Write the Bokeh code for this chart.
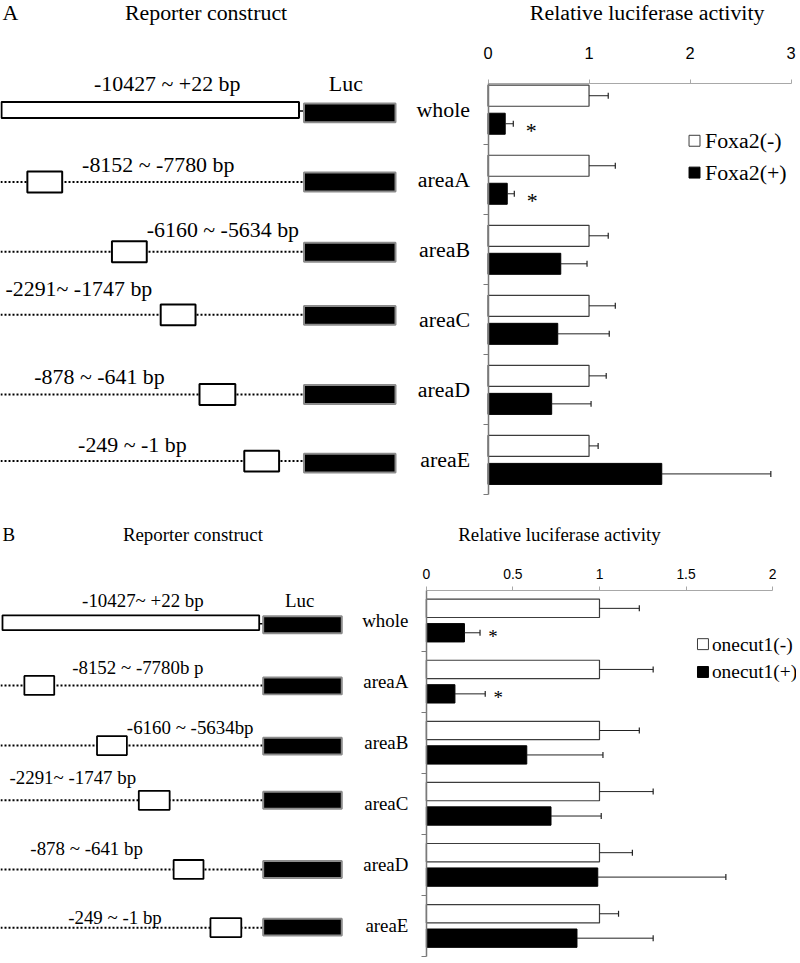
import numpy as np
from bokeh.plotting import figure
from bokeh.models import Range1d, FixedTicker, LinearAxis
from bokeh.embed import file_html
from bokeh.resources import INLINE
from bokeh.core.properties import value

# ---------------- data ----------------
categories = ["whole", "areaA", "areaB", "areaC", "areaD", "areaE"]
labels_a = ["-10427 ~ +22 bp", "-8152 ~ -7780 bp", "-6160 ~ -5634 bp",
            "-2291~ -1747 bp", "-878 ~ -641 bp", "-249 ~ -1 bp"]
labels_b = ["-10427~ +22 bp", "-8152 ~ -7780b p", "-6160 ~ -5634bp",
            "-2291~ -1747 bp", "-878 ~ -641 bp", "-249 ~ -1 bp"]

foxa2_minus = [1.0, 1.0, 1.0, 1.0, 1.0, 1.0]
foxa2_minus_err = [0.19, 0.26, 0.19, 0.26, 0.17, 0.09]
foxa2_plus = [0.17, 0.19, 0.72, 0.69, 0.63, 1.72]
foxa2_plus_err = [0.08, 0.07, 0.26, 0.51, 0.39, 1.08]
foxa2_sig = [True, True, False, False, False, False]

onecut1_minus = [1.0, 1.0, 1.0, 1.0, 1.0, 1.0]
onecut1_minus_err = [0.23, 0.31, 0.23, 0.31, 0.19, 0.11]
onecut1_plus = [0.22, 0.165, 0.58, 0.72, 0.99, 0.87]
onecut1_plus_err = [0.09, 0.175, 0.44, 0.29, 0.74, 0.44]
onecut1_sig = [True, True, False, False, False, False]

ticks_a = [0, 1, 2, 3]
tick_labels_a = ["0", "1", "2", "3"]
ticks_b = [0, 0.5, 1, 1.5, 2]
tick_labels_b = ["0", "0.5", "1", "1.5", "2"]

# ---------------- canvas (reference-pixel coordinates) ----------------
S = 0.995
W_REF, H_REF = 800, 963
SERIF = "Liberation Serif"
SANS = "Liberation Sans"


def fpx(v):
    return f"{v * S:.1f}px"


p = figure(width=796, height=958, x_range=Range1d(0, W_REF), y_range=Range1d(H_REF, 0),
           output_backend="svg", toolbar_location=None, x_axis_location=None,
           y_axis_location=None, title=None, min_border_left=0, min_border_right=0,
           min_border_top=0, min_border_bottom=0)
p.outline_line_color = None
p.grid.visible = False
p.background_fill_color = "white"


def txt(x, y, t, fs, align="left", baseline="alphabetic", font=SERIF, **kw):
    # "alphabetic" positions are given as baselines; draw them centred on the
    # digit/cap height so the SVG output places them reliably
    if baseline == "alphabetic":
        y = [v - 0.34 * fs for v in y]
    p.text(x=x, y=y, text=t, text_font=value(font), text_font_size=fpx(fs),
           text_align=align, text_baseline="middle", text_color="black", **kw)


def draw_constructs(letter, letter_xy, head_xy, box_x, box_y, box_h, whole_h,
                    luc_x, luc_y, luc_h, labels, label_xy, luc_lab_xy, fs, lw):
    txt([letter_xy[0]], [letter_xy[1]], [letter], fs)
    txt([head_xy[0]], [head_xy[1]], ["Reporter construct"], fs)
    n = len(box_x)
    p.segment(x0=[0] * (n - 1), x1=[luc_x[0]] * (n - 1), y0=box_y[1:], y1=box_y[1:],
              line_color="black", line_width=2 * S, line_dash="2 2")
    p.segment(x0=[box_x[0][1]], x1=[luc_x[0]], y0=[box_y[0] + 1], y1=[box_y[0] + 1],
              line_color="black", line_width=1.5)
    hs = [whole_h] + [box_h] * (n - 1)
    p.quad(left=[b[0] for b in box_x], right=[b[1] for b in box_x],
           top=[y - h / 2 for y, h in zip(box_y, hs)],
           bottom=[y + h / 2 for y, h in zip(box_y, hs)],
           fill_color="white", line_color="black", line_width=lw)
    p.quad(left=[luc_x[0]] * n, right=[luc_x[1]] * n,
           top=[y - luc_h / 2 for y in luc_y], bottom=[y + luc_h / 2 for y in luc_y],
           fill_color="black", line_color="#8c8c8c", line_width=2 * S)
    txt([luc_lab_xy[0]], [luc_lab_xy[1]], ["Luc"], fs)
    txt([xy[0] for xy in label_xy], [xy[1] for xy in label_xy], labels, fs)


def bar_chart(key, x0_ref, ppu, axis_y_ref, pitch, band0_ref, ticks, tick_labels,
              standoff, tick_fs, lab_fs, minus, minus_err, plus, plus_err, sig, star_dx,
              star_dy, title_xy, legend_names, legend_xy, legend_fs):
    xr, yr = key + "x", key + "y"
    # value -> ref x : x0_ref + v*ppu ; category v -> ref y : band0_ref + (v-0.5)*pitch
    p.extra_x_ranges[xr] = Range1d(-x0_ref / ppu, (W_REF - x0_ref) / ppu)
    p.extra_y_ranges[yr] = Range1d(0.5 + (H_REF - band0_ref) / pitch,
                                   0.5 - band0_ref / pitch)
    ytop = 0.5 + (axis_y_ref - band0_ref) / pitch
    nb = len(categories)

    xa = LinearAxis(x_range_name=xr, fixed_location=axis_y_ref,
                    ticker=FixedTicker(ticks=ticks, minor_ticks=[]),
                    major_label_overrides={t: l for t, l in zip(ticks, tick_labels)},
                    bounds=(ticks[0], ticks[-1]))
    xa.axis_line_color = "#a8a8a8"
    xa.axis_line_width = 1.2
    xa.major_tick_line_color = "#a8a8a8"
    xa.major_tick_out = 4
    xa.major_tick_in = 0
    xa.minor_tick_line_color = None
    xa.major_label_standoff = standoff
    xa.major_label_text_font = SANS
    xa.major_label_text_font_size = fpx(tick_fs)
    xa.major_label_text_color = "black"
    p.add_layout(xa, "above")

    idx = list(range(nb))
    ya = LinearAxis(y_range_name=yr, x_range_name=xr, fixed_location=0,
                    ticker=FixedTicker(ticks=idx, minor_ticks=[i + 0.5 for i in idx]),
                    major_label_overrides={i: c for i, c in zip(idx, categories)},
                    bounds=(ytop, nb - 0.5))
    ya.axis_line_color = "#7a7a7a"
    ya.axis_line_width = 1.5
    ya.major_tick_line_color = None
    ya.major_tick_out = 0
    ya.major_tick_in = 0
    ya.minor_tick_line_color = "#7a7a7a"
    ya.minor_tick_line_width = 1.2
    ya.minor_tick_out = 5
    ya.minor_tick_in = 0
    ya.major_label_standoff = 13
    ya.major_label_text_font = SERIF
    ya.major_label_text_font_size = fpx(lab_fs)
    ya.major_label_text_color = "black"
    p.add_layout(ya, "left")

    y = np.arange(nb, dtype=float)
    yw = y - 0.2
    yb = y + 0.2
    rn = dict(x_range_name=xr, y_range_name=yr)
    p.hbar(y=yw, left=0, right=minus, height=0.3, fill_color="white",
           line_color="#3c3c3c", line_width=1.2, **rn)
    p.hbar(y=yb, left=0, right=plus, height=0.3, fill_color="black",
           line_color="black", line_width=1, **rn)
    cap = 3.0 / pitch
    for vals, errs, ys in ((minus, minus_err, yw), (plus, plus_err, yb)):
        ends = np.array(vals) + np.array(errs)
        p.segment(x0=vals, x1=ends, y0=ys, y1=ys, line_color="#222222", line_width=1,
                  **rn)
        p.segment(x0=ends, x1=ends, y0=ys - cap, y1=ys + cap, line_color="#222222",
                  line_width=1.2, **rn)
    sx = [v + e for v, e, s in zip(plus, plus_err, sig) if s]
    sy = [yy for yy, s in zip(yb, sig) if s]
    p.text(x=sx, y=sy, text=["*"] * len(sx), x_offset=star_dx * S, y_offset=star_dy * S,
           text_font=value(SERIF), text_font_size=fpx(lab_fs), text_align="center",
           text_baseline="middle", text_color="black", **rn)

    # legend (reference-pixel layout)
    sqx, ly0, ly1, tx = legend_xy
    p.rect(x=[sqx] * 2, y=[ly0, ly1], width=11 * S, height=11 * S,
           width_units="screen", height_units="screen",
           fill_color=["white", "black"], line_color=["#3c3c3c", "black"], line_width=1)
    txt([tx] * 2, [ly0, ly1], legend_names, legend_fs, baseline="middle")

    txt([title_xy[0]], [title_xy[1]], ["Relative luciferase activity"], lab_fs)


# ---------------- panel A ----------------
draw_constructs(
    "A", (2, 20), (125, 20),
    box_x=[(1, 300), (27, 62), (112, 147), (161, 196), (200, 236), (245, 280)],
    box_y=[110, 182.5, 252.5, 316, 396, 463], box_h=21, whole_h=16,
    luc_x=(305, 397), luc_y=[113, 182.5, 253, 316.5, 396, 465], luc_h=19,
    labels=labels_a,
    label_xy=[(94, 91), (82, 172), (147, 238), (5, 297), (34, 385), (78, 454)],
    luc_lab_xy=(330, 91), fs=22, lw=2 * S)

bar_chart("A", x0_ref=490, ppu=101.5, axis_y_ref=83, pitch=70.4, band0_ref=145,
          ticks=ticks_a, tick_labels=tick_labels_a, standoff=20, tick_fs=16.5, lab_fs=22,
          minus=foxa2_minus, minus_err=foxa2_minus_err, plus=foxa2_plus,
          plus_err=foxa2_plus_err, sig=foxa2_sig, star_dx=18, star_dy=7,
          title_xy=(532, 20), legend_names=["Foxa2(-)", "Foxa2(+)"],
          legend_xy=(697.5, 141, 173, 708), legend_fs=22)

# ---------------- panel B ----------------
draw_constructs(
    "B", (2, 543), (123, 543),
    box_x=[(2, 260), (24, 54), (97, 127), (139, 170), (174, 204), (211, 242)],
    box_y=[625.5, 688.5, 749, 804, 873.5, 932], box_h=19, whole_h=15,
    luc_x=(264, 343), luc_y=[627.5, 689, 749.5, 804, 873.5, 931.5], luc_h=17,
    labels=labels_b,
    label_xy=[(82, 610), (72, 677), (127, 737), (9, 788), (30, 859), (68, 928)],
    luc_lab_xy=(286, 610), fs=19, lw=1.8 * S)

bar_chart("B", x0_ref=428, ppu=174, axis_y_ref=593, pitch=61.4, band0_ref=654,
          ticks=ticks_b, tick_labels=tick_labels_b, standoff=7, tick_fs=14, lab_fs=19,
          minus=onecut1_minus, minus_err=onecut1_minus_err, plus=onecut1_plus,
          plus_err=onecut1_plus_err, sig=onecut1_sig, star_dx=13, star_dy=4,
          title_xy=(460, 543), legend_names=["onecut1(-)", "onecut1(+)"],
          legend_xy=(706, 647, 675, 715), legend_fs=19.5)

open("out.html", "w").write(file_html(p, INLINE))
